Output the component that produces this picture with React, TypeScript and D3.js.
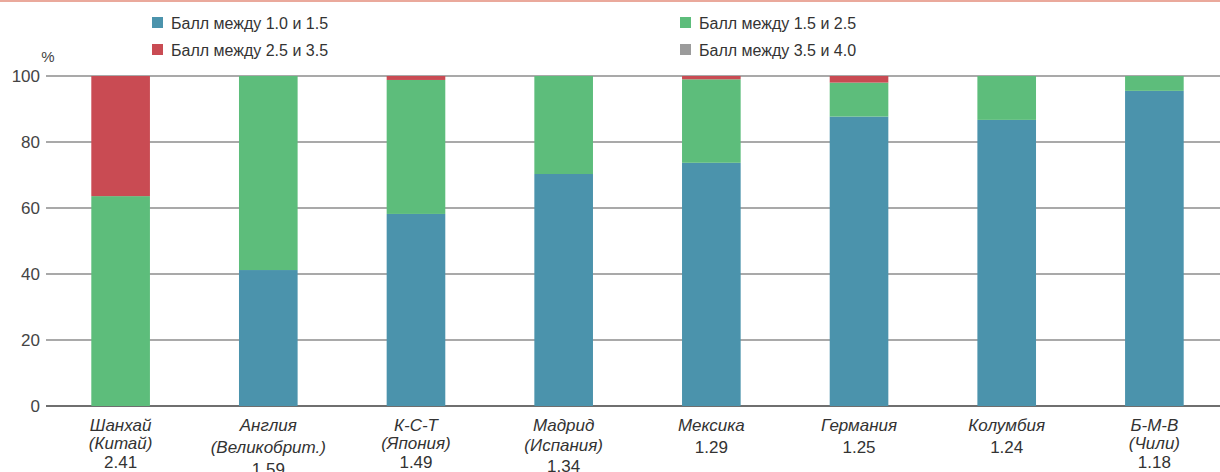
import React from "react";
import * as d3 from "d3";

// Cities / regions, with the average score shown under each name
const categories = ["sh", "en", "kst", "mad", "mex", "ger", "col", "bmv"];
const nameLines: string[][] = [
  ["Шанхай", "(Китай)"],
  ["Англия", "(Великобрит.)"],
  ["К-С-Т", "(Япония)"],
  ["Мадрид", "(Испания)"],
  ["Мексика"],
  ["Германия"],
  ["Колумбия"],
  ["Б-М-В", "(Чили)"],
];
const scores = ["2.41", "1.59", "1.49", "1.34", "1.29", "1.25", "1.24", "1.18"];

// Share of students (%) in each score band
const band10to15 = [0, 41.2, 58.2, 70.3, 73.7, 87.7, 86.7, 95.5];
const band15to25 = [63.6, 58.8, 40.6, 29.7, 25.3, 10.3, 13.3, 4.5];
const band25to35 = [36.4, 0, 1.2, 0, 1.0, 2.0, 0, 0];
const band35to40 = [0, 0, 0, 0, 0, 0, 0, 0];

const seriesNames = [
  "Балл между 1.0 и 1.5",
  "Балл между 1.5 и 2.5",
  "Балл между 2.5 и 3.5",
  "Балл между 3.5 и 4.0",
];
const seriesColors = ["#4b93ac", "#5dbd7b", "#c94b53", "#9b9b9b"];
const yTicks = [0, 20, 40, 60, 80, 100];

const W = 1220;
const H = 472;
const FONT = "'Liberation Sans', Arial, Helvetica, sans-serif";

// vertical spacing of the label lines under each bar
const labelLineGap = [18.5, 22, 18.5, 20.5, 22, 22, 22, 18.5];

export default function App() {
  const x = d3
    .scaleBand<string>()
    .domain(categories)
    .range([47, 1228])
    .paddingInner(0.603)
    .paddingOuter(0.3);
  const y = d3.scaleLinear().domain([0, 100]).range([406, 76]);

  const rows = categories.map((c, i) => ({
    c,
    s0: band10to15[i],
    s1: band15to25[i],
    s2: band25to35[i],
    s3: band35to40[i],
  }));
  const stacked = d3.stack<any>().keys(["s0", "s1", "s2", "s3"])(rows);

  // legend layout: two columns, two rows
  const legendPos = [
    { x: 152, y: 23 },
    { x: 680, y: 23 },
    { x: 152, y: 50 },
    { x: 680, y: 50 },
  ];

  return (
    <svg
      width={W}
      height={H}
      style={{ position: "fixed", left: 0, top: 0, background: "#fff" }}
      fontFamily={FONT}
    >
      <rect x={0} y={0} width={W} height={H} fill="#fff" />
      <line x1={0} x2={W} y1={1} y2={1} stroke="#eaa99c" strokeWidth={2} />

      {/* legend */}
      {seriesNames.map((name, i) => (
        <g key={name} transform={`translate(${legendPos[i].x},${legendPos[i].y})`}>
          <rect x={0} y={-6} width={11} height={11} fill={seriesColors[i]} />
          <text x={19} y={0} dy="0.35em" fontSize={16} fill="#333">
            {name}
          </text>
        </g>
      ))}

      {/* gridlines and y ticks */}
      {yTicks.map((t) => (
        <g key={t}>
          <line
            x1={46}
            x2={W}
            y1={y(t)}
            y2={y(t)}
            stroke={t === 0 ? "#6f6f6f" : "#8c8c8c"}
            strokeWidth={t === 0 ? 1.8 : 1.5}
          />
          <text
            x={40}
            y={y(t)}
            dy="0.35em"
            textAnchor="end"
            fontSize={17}
            fill="#444"
          >
            {t}
          </text>
        </g>
      ))}
      <text x={48} y={62} textAnchor="middle" fontSize={15} fill="#444">
        %
      </text>

      {/* stacked bars */}
      {stacked.map((layer, si) => (
        <g key={layer.key} fill={seriesColors[si]}>
          {layer.map((d, i) => {
            const h = y(d[0]) - y(d[1]);
            if (h <= 0) return null;
            return (
              <rect
                key={categories[i]}
                x={x(categories[i])!}
                y={y(d[1])}
                width={x.bandwidth()}
                height={h}
              />
            );
          })}
        </g>
      ))}

      {/* category labels */}
      {categories.map((c, i) => {
        const cx = x(c)! + x.bandwidth() / 2;
        const lines = nameLines[i];
        const gap = labelLineGap[i];
        return (
          <g key={c} fill="#333" fontSize={17} textAnchor="middle">
            {lines.map((l, li) => (
              <text key={li} x={cx} y={425 + li * gap} dy="0.35em" fontStyle="italic">
                {l}
              </text>
            ))}
            <text x={cx} y={425 + lines.length * gap} dy="0.35em">
              {scores[i]}
            </text>
          </g>
        );
      })}
    </svg>
  );
}
